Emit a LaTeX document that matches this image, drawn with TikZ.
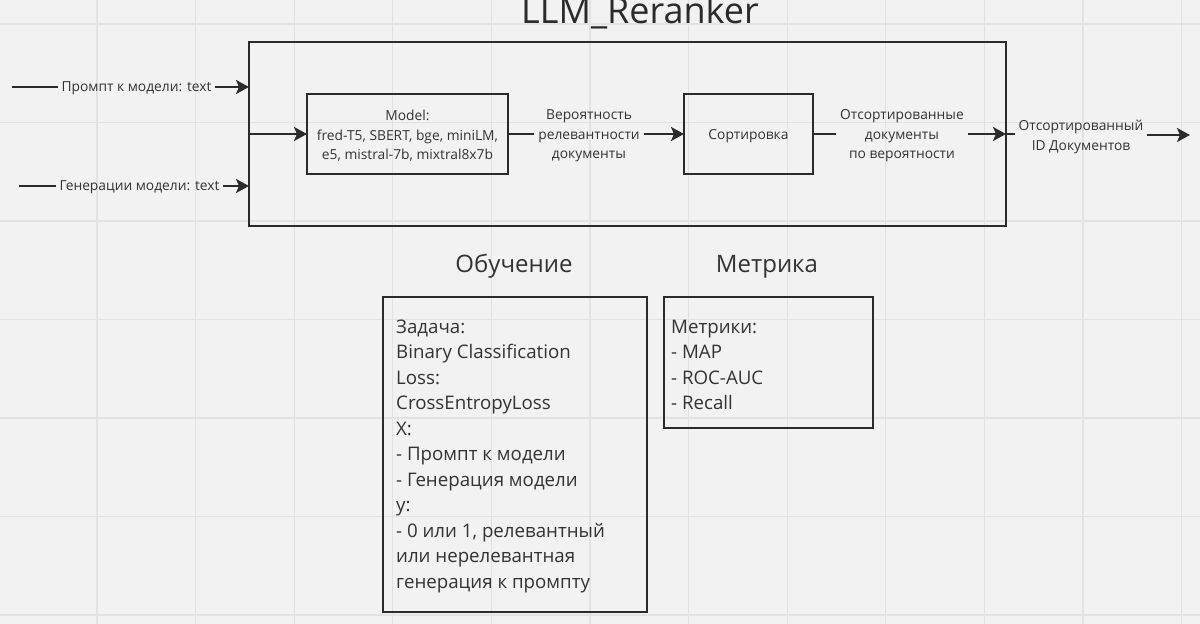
\documentclass[tikz,border=0pt]{standalone}
\usepackage{fontspec}
\setmainfont{Open Sans}
\usetikzlibrary{arrows.meta}
\definecolor{bg}{HTML}{F2F2F2}
\definecolor{gridc}{HTML}{E2E2E2}
\definecolor{ink}{HTML}{2B2B2B}
\definecolor{txt}{HTML}{333333}
\tikzset{
  boxst/.style={draw=ink, line width=2pt, inner sep=0pt, outer sep=0pt},
  smallf/.style={font=\fontsize{13.8}{19.5}\selectfont},
  lblst/.style={text=txt, inner sep=0pt, outer sep=4pt, align=center, smallf},
  conn/.style={draw=ink, line width=2pt},
  arr/.style={conn, -{Stealth[length=13pt,width=14pt,inset=3pt]}},
  bodyst/.style={text=txt, font=\fontsize{18.7}{25.5}\selectfont, align=left},
  headst/.style={text=txt, anchor=base, font=\fontsize{24}{28}\selectfont}
}
\begin{document}
\begin{tikzpicture}[x=1pt,y=-1pt]
\useasboundingbox[fill=bg] (0,0) rectangle (1200,624);
\foreach \i in {0,...,11} { \draw[gridc, line width=1.2pt] (97+98.6*\i,0) -- (97+98.6*\i,624); }
\foreach \j in {0,...,6} { \draw[gridc, line width=1.2pt] (0,24+98.5*\j) -- (1200,24+98.5*\j); }

\node[text=ink, anchor=base, font=\fontsize{36}{40}\selectfont] (title) at (640,23) {LLM\_Reranker};

\node[boxst, minimum width=757pt, minimum height=184pt] (outer) at (627.5,134) {};
\node[boxst, minimum width=201pt, minimum height=80pt] (model) at (407.5,134) {};
\node[lblst, outer sep=0pt] (modeltxt) at (407.5,136) {Model:\\fred-T5, SBERT, bge, miniLM,\\e5, mistral-7b, mixtral8x7b};
\node[boxst, minimum width=129pt, minimum height=80pt] (sort) at (748.5,134) {};
\node[lblst, outer sep=0pt] (sorttxt) at (748.5,136) {Сортировка};

\coordinate (in1) at (12,87);
\coordinate (in2) at (19,186);
\node[lblst] (l1) at (136.5,88) {Промпт к модели: text};
\node[lblst] (l2) at (139.5,187) {Генерации модели: text};
\draw[conn] (in1) -- (in1 -| l1.west);
\draw[arr] (l1.east |- in1) -- (in1 -| outer.west);
\draw[conn] (in2) -- (in2 -| l2.west);
\draw[arr] (l2.east |- in2) -- (in2 -| outer.west);
\draw[arr] (outer.west) -- (model.west);

\node[lblst] (lp) at (589,136) {Вероятность\\релевантности\\документы};
\draw[conn] (model.east) -- (model.east -| lp.west);
\draw[arr] (lp.east |- sort.west) -- (sort.west);

\node[lblst] (ls) at (902,136) {Отсортированные\\документы\\по вероятности};
\draw[conn] (sort.east) -- (sort.east -| ls.west);
\draw[arr] (ls.east |- outer.east) -- (outer.east);

\node[lblst] (lo) at (1081,137) {Отсортированный\\ID Документов};
\coordinate (out) at (1190,135);
\draw[conn] (outer.east) -- (lo.west |- outer.east);
\draw[arr] (lo.east |- out) -- (out);

\node[headst] (h1) at (514,272) {Обучение};
\node[headst] (h2) at (767,272) {Метрика};

\node[boxst, minimum width=264pt, minimum height=315pt] (train) at (515,454.5) {};
\node[bodyst, anchor=west, inner sep=0pt] (traintxt) at (396,456) {Задача:\\Binary Classification\\Loss:\\CrossEntropyLoss\\X:\\- Промпт к модели\\- Генерация модели\\y:\\- 0 или 1, релевантный\\или нерелевантная\\генерация к промпту};

\node[boxst, minimum width=209pt, minimum height=131pt] (metric) at (768.5,362.5) {};
\node[bodyst, anchor=west, inner sep=0pt] (metrictxt) at (671,365) {Метрики:\\- MAP\\- ROC-AUC\\- Recall};
\end{tikzpicture}
\end{document}
